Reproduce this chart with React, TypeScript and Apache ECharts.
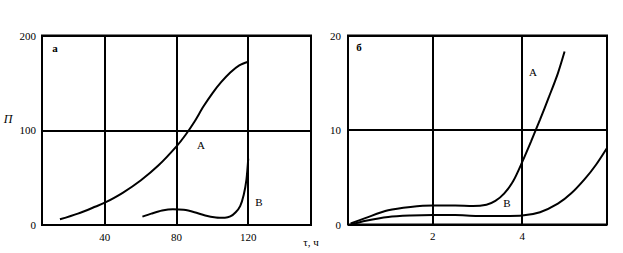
import React, { useEffect, useRef } from "react";
import * as echarts from "echarts";

// Panel "а": П vs τ, ч
const leftXTicks = [40, 80, 120];
const leftCurveA: [number, number][] = [
  [15, 6], [25, 12], [35, 19.5], [40, 23.5], [50, 34], [60, 47], [70, 63],
  [80, 83], [85, 95], [90, 109], [95, 125], [100, 139], [105, 151],
  [110, 161], [115, 168.5], [120, 172.3],
];
const leftCurveB: [number, number][] = [
  [61, 8.8], [66, 12], [72, 15.2], [78, 16.6], [84, 16], [90, 13.5], [96, 10],
  [102, 8], [107, 7.7], [110, 9], [113, 13.5], [115.5, 20], [117.5, 32],
  [119, 48], [120, 70],
];

// Panel "б"
const rightXTicks = [2, 4];
const rightCurveA: [number, number][] = [
  [0.16, 0.1], [0.5, 0.7], [1.0, 1.5], [1.5, 1.85], [2.0, 2.0], [2.5, 2.0],
  [2.9, 1.95], [3.2, 2.1], [3.4, 2.5], [3.6, 3.3], [3.8, 4.6], [4.0, 6.6],
  [4.2, 8.8], [4.4, 11.1], [4.6, 13.5], [4.8, 16.0], [4.95, 18.3],
];
const rightCurveB: [number, number][] = [
  [0.16, 0], [0.5, 0.4], [1.0, 0.8], [1.5, 0.95], [2.0, 1.0], [2.5, 1.0],
  [3.0, 0.9], [3.5, 0.9], [4.0, 0.95], [4.4, 1.3], [4.8, 2.2], [5.1, 3.3],
  [5.4, 4.8], [5.65, 6.3], [5.9, 8.1],
];

const FONT = "'Liberation Serif', 'Times New Roman', serif";

export default function App() {
  const ref = useRef<HTMLDivElement>(null);
  useEffect(() => {
    if (!ref.current) return;
    const chart = echarts.init(ref.current, null, { renderer: "svg" });
    const lineStyle = { color: "#000", width: 2 };
    const splitLine = { show: true, lineStyle: { color: "#000", width: 2 } };
    const label = { color: "#000", fontFamily: FONT, fontSize: 11 };
    const curve = (data: [number, number][], idx: number) => ({
      type: "line",
      xAxisIndex: idx,
      yAxisIndex: idx,
      data,
      smooth: 0.3,
      showSymbol: false,
      symbol: "none",
      lineStyle,
      silent: true,
    });
    const text = (x: number, y: number, t: string, extra: any = {}) => ({
      type: "text",
      x,
      y,
      style: {
        text: t,
        fill: "#000",
        fontFamily: FONT,
        fontSize: extra.size || 12,
        fontWeight: extra.weight || "normal",
        fontStyle: extra.italic ? "italic" : "normal",
        align: "center",
        verticalAlign: "middle",
      },
    });
    chart.setOption({
      animation: false,
      backgroundColor: "#fff",
      grid: [
        { left: 42, top: 35.5, width: 269, height: 189.5, show: true, borderColor: "#000", borderWidth: 2, containLabel: false },
        { left: 348, top: 35.5, width: 259, height: 189, show: true, borderColor: "#000", borderWidth: 2, containLabel: false },
      ],
      xAxis: [
        {
          type: "value", gridIndex: 0, min: 5, max: 155,
          axisLine: { show: false }, axisTick: { show: false, customValues: leftXTicks },
          axisLabel: { ...label, margin: 6, customValues: leftXTicks },
          splitLine,
        },
        {
          type: "value", gridIndex: 1, min: 0.1, max: 5.9,
          axisLine: { show: false }, axisTick: { show: false, customValues: rightXTicks },
          axisLabel: { ...label, margin: 6, customValues: rightXTicks },
          splitLine,
        },
      ],
      yAxis: [
        {
          type: "value", gridIndex: 0, min: 0, max: 200, interval: 100,
          axisLine: { show: false }, axisTick: { show: false },
          axisLabel: { ...label, margin: 6 }, splitLine,
        },
        {
          type: "value", gridIndex: 1, min: 0, max: 20, interval: 10,
          axisLine: { show: false }, axisTick: { show: false },
          axisLabel: { ...label, margin: 7 }, splitLine,
        },
      ],
      series: [
        curve(leftCurveA, 0),
        curve(leftCurveB, 0),
        curve(rightCurveA, 1),
        curve(rightCurveB, 1),
      ],
      graphic: [
        text(55, 47.5, "а", { weight: "bold", size: 11 }),
        text(359, 46.5, "б", { weight: "bold", size: 11 }),
        text(8, 119, "П", { italic: true, size: 12 }),
        text(201, 145, "А", { size: 11 }),
        text(259, 202, "В", { size: 11 }),
        text(533, 72, "А", { size: 11 }),
        text(507, 202.5, "В", { size: 11 }),
        text(311, 242, "τ, ч", { size: 11 }),
      ],
    });
    return () => chart.dispose();
  }, []);
  return (
    <div
      ref={ref}
      style={{ position: "fixed", left: 0, top: 0, width: 623, height: 253, background: "#fff" }}
    />
  );
}
